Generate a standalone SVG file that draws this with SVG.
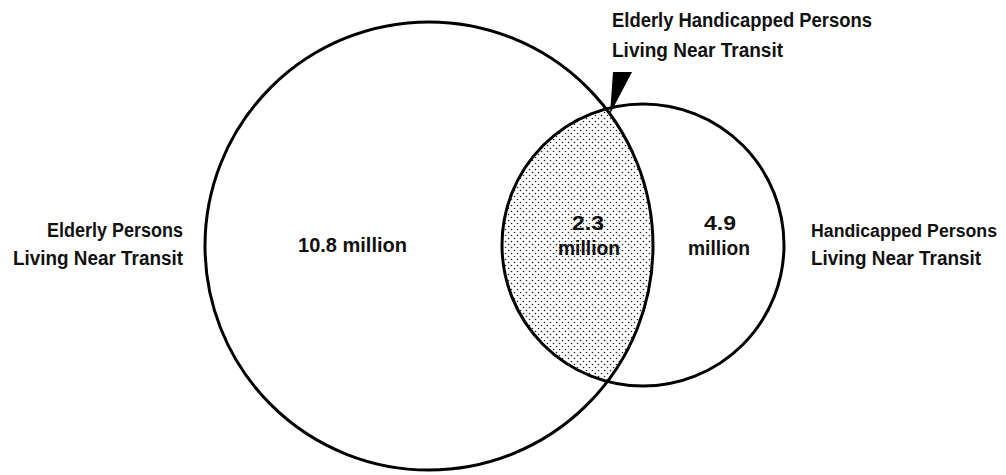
<svg xmlns="http://www.w3.org/2000/svg" width="1006" height="475" viewBox="0 0 1006 475">
<style>
.c{fill:none;stroke:#000;stroke-width:3}
.t{font-family:"Liberation Sans",Arial,sans-serif;font-weight:bold;font-size:20px;fill:#111}
</style>
<defs>
<pattern id="dots" width="6" height="6" patternUnits="userSpaceOnUse">
<circle cx="1.5" cy="1.5" r="0.8" fill="#222"/>
<circle cx="4.5" cy="4.5" r="0.8" fill="#222"/>
</pattern>
<clipPath id="smallClip"><circle cx="643" cy="245" r="141"/></clipPath>
</defs>
<rect width="1006" height="475" fill="#fff"/>
<g id="overlap">
<circle cx="429" cy="246" r="224" fill="url(#dots)" clip-path="url(#smallClip)"/>
</g>
<g id="elderly">
<circle class="c" cx="429" cy="246" r="224"/>
<text class="t" x="298" y="252" textLength="109" lengthAdjust="spacingAndGlyphs">10.8 million</text>
</g>
<g id="handicapped">
<circle class="c" cx="643" cy="245" r="141"/>
<text class="t" x="720" y="230" text-anchor="middle" textLength="32" lengthAdjust="spacingAndGlyphs">4.9</text>
<text class="t" x="688" y="255" textLength="62" lengthAdjust="spacingAndGlyphs">million</text>
</g>
<g id="both">
<text class="t" x="588" y="230" text-anchor="middle" textLength="32" lengthAdjust="spacingAndGlyphs">2.3</text>
<text class="t" x="558" y="255" textLength="62" lengthAdjust="spacingAndGlyphs">million</text>
</g>
<g id="label-elderly">
<text class="t" x="183" y="237" text-anchor="end" textLength="136" lengthAdjust="spacingAndGlyphs">Elderly Persons</text>
<text class="t" x="13" y="265" textLength="170" lengthAdjust="spacingAndGlyphs">Living Near Transit</text>
</g>
<g id="label-handicapped">
<text class="t" x="811" y="237" font-size="18" style="font-size:18px" textLength="186" lengthAdjust="spacingAndGlyphs">Handicapped Persons</text>
<text class="t" x="811" y="265" textLength="170" lengthAdjust="spacingAndGlyphs">Living Near Transit</text>
</g>
<g id="label-both">
<text class="t" x="612" y="27" textLength="260" lengthAdjust="spacingAndGlyphs">Elderly Handicapped Persons</text>
<text class="t" x="612" y="57" textLength="171" lengthAdjust="spacingAndGlyphs">Living Near Transit</text>
</g>
<g id="connectors">
<polygon points="613,72 632,72 610,114" fill="#000"/>
</g>
</svg>
